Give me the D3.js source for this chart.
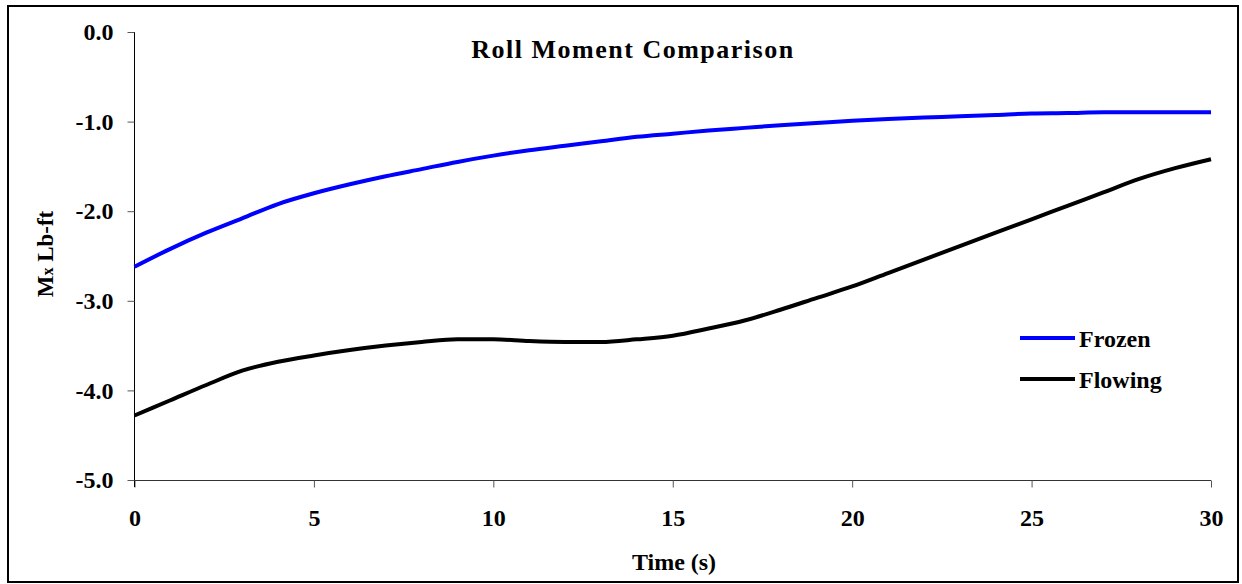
<!DOCTYPE html>
<html>
<head>
<meta charset="utf-8">
<script src="https://cdn.jsdelivr.net/npm/d3@7"></script>
<style>
  body { margin: 0; background: #fff; }
  text { font-family: "Liberation Serif", "Times New Roman", serif; font-weight: bold; fill: #000; }
</style>
</head>
<body>
<svg id="chart" width="1242" height="584"></svg>
<script>
// time in seconds
var times = [0, 1, 2, 3, 4, 5, 6, 7, 8, 9, 10, 11, 12, 13, 14, 15,
             16, 17, 18, 19, 20, 21, 22, 23, 24, 25, 26, 27, 28, 29, 30];
// roll moment, frozen fluid
var frozen = [-2.62, -2.42, -2.24, -2.08, -1.92, -1.80, -1.70, -1.61, -1.53, -1.45, -1.38,
              -1.32, -1.27, -1.22, -1.17, -1.135, -1.10, -1.07, -1.04, -1.015, -0.99,
              -0.97, -0.955, -0.94, -0.925, -0.91, -0.905, -0.895, -0.895, -0.895, -0.895];
// roll moment, flowing fluid
var flowing = [-4.28, -4.11, -3.94, -3.78, -3.68, -3.61, -3.55, -3.50, -3.46, -3.43, -3.43,
               -3.45, -3.46, -3.46, -3.43, -3.39, -3.31, -3.22, -3.10, -2.97, -2.84,
               -2.69, -2.54, -2.39, -2.24, -2.09, -1.94, -1.79, -1.64, -1.52, -1.42];
var xTicks = [0, 5, 10, 15, 20, 25, 30];
var yTicks = [0, -1, -2, -3, -4, -5];
var seriesNames = ["Frozen", "Flowing"];
var seriesColors = ["#0000ff", "#000000"];

var svg = d3.select("#chart");

// outer frame
svg.append("rect")
    .attr("x", 8).attr("y", 6)
    .attr("width", 1230).attr("height", 576)
    .attr("fill", "none").attr("stroke", "#000").attr("stroke-width", 2);

var xscale = d3.scaleLinear().domain([0, 30]).range([134.5, 1211]);
var yscale = d3.scaleLinear().domain([-5, 0]).range([480, 32]);

// x axis
var xaxis = svg.append("g")
    .attr("transform", "translate(0,480)")
    .call(d3.axisBottom(xscale).tickValues(xTicks).tickSize(7).tickPadding(22)
        .tickFormat(function (d) { return String(d); }));
xaxis.select(".domain").attr("stroke", "#333").attr("d", "M134.5,0.5H1211");
xaxis.selectAll(".tick line").attr("stroke", "#555").attr("transform", "translate(0,0.5)");
xaxis.selectAll(".tick text")
    .attr("font-size", 24).attr("fill", "#000");

// y axis, plain hyphen as minus like the original
var yaxis = svg.append("g")
    .attr("transform", "translate(134.5,0)")
    .call(d3.axisLeft(yscale).tickValues(yTicks).tickSize(7).tickPadding(14)
        .tickFormat(function (d) { return d.toFixed(1).replace("−", "-"); }));
yaxis.select(".domain").attr("stroke", "#000").attr("d", "M0,32V487");
yaxis.selectAll(".tick line").attr("stroke", "#555");
yaxis.selectAll(".tick text")
    .attr("font-size", 24).attr("fill", "#000");

// lines
var line = d3.line()
    .curve(d3.curveMonotoneX)
    .x(function (d) { return xscale(d[0]); })
    .y(function (d) { return yscale(d[1]); });

[frozen, flowing].forEach(function (vals, i) {
    var pts = times.map(function (t, j) { return [t, vals[j]]; });
    svg.append("path")
        .attr("d", line(pts))
        .attr("fill", "none")
        .attr("stroke", seriesColors[i])
        .attr("stroke-width", 4)
        .attr("stroke-linejoin", "round");
});

// title
svg.append("text")
    .attr("x", 633).attr("y", 58)
    .attr("text-anchor", "middle")
    .attr("font-size", 26)
    .attr("letter-spacing", 1.5)
    .text("Roll Moment Comparison");

// axis titles
svg.append("text")
    .attr("x", 674).attr("y", 570)
    .attr("text-anchor", "middle")
    .attr("font-size", 24)
    .text("Time (s)");

var ylab = svg.append("text")
    .attr("transform", "translate(53,254) rotate(-90)")
    .attr("text-anchor", "middle")
    .attr("font-size", 23);
ylab.append("tspan").text("M");
ylab.append("tspan").attr("font-size", 16).text("x");
ylab.append("tspan").text(" Lb-ft");

// legend
var legendY = [338, 379];
seriesNames.forEach(function (name, i) {
    svg.append("line")
        .attr("x1", 1020).attr("x2", 1075)
        .attr("y1", legendY[i]).attr("y2", legendY[i])
        .attr("stroke", seriesColors[i]).attr("stroke-width", 4);
    svg.append("text")
        .attr("x", 1079).attr("y", legendY[i] + 9)
        .attr("font-size", 24)
        .text(name);
});
</script>
</body>
</html>
